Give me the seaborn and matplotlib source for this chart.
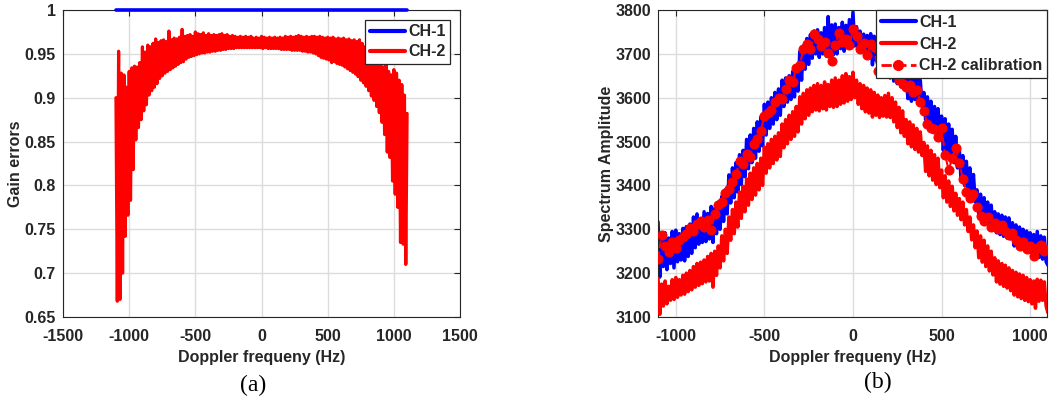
import numpy as np
import pandas as pd
import matplotlib
matplotlib.use("Agg")
import matplotlib.pyplot as plt
import seaborn as sns
from matplotlib.lines import Line2D

sns.set_style("white")
plt.rcParams['font.family'] = ['Liberation Sans', 'DejaVu Sans']
plt.rcParams['font.weight'] = 'bold'
plt.rcParams['axes.unicode_minus'] = False

# ---------------- data ----------------
# panel (a): gain errors, Doppler grid -1100..1100 Hz step 10
freq_a_start, freq_a_step = -1100, 10
gain_ch1 = [1.0] * 221
gain_ch2 = [
    0.900, 0.668, 0.953, 0.670, 0.928, 0.700, 0.926, 0.742, 0.912, 0.766,
    0.930, 0.783, 0.934, 0.818, 0.936, 0.852, 0.935, 0.866, 0.940, 0.875,
    0.958, 0.885, 0.952, 0.892, 0.960, 0.903, 0.958, 0.908, 0.962, 0.912,
    0.967, 0.916, 0.963, 0.922, 0.965, 0.925, 0.966, 0.928, 0.964, 0.930,
    0.976, 0.932, 0.966, 0.934, 0.968, 0.936, 0.967, 0.938, 0.969, 0.940,
    0.978, 0.941, 0.970, 0.944, 0.971, 0.946, 0.972, 0.947, 0.970, 0.948,
    0.975, 0.949, 0.973, 0.950, 0.972, 0.951, 0.974, 0.951, 0.971, 0.952,
    0.973, 0.952, 0.971, 0.953, 0.972, 0.953, 0.971, 0.954, 0.972, 0.954,
    0.973, 0.955, 0.971, 0.955, 0.972, 0.956, 0.970, 0.956, 0.971, 0.956,
    0.970, 0.957, 0.969, 0.957, 0.970, 0.957, 0.969, 0.957, 0.970, 0.957,
    0.969, 0.957, 0.970, 0.957, 0.968, 0.957, 0.969, 0.957, 0.968, 0.957,
    0.970, 0.956, 0.969, 0.957, 0.968, 0.956, 0.969, 0.956, 0.968, 0.956,
    0.969, 0.956, 0.968, 0.956, 0.969, 0.955, 0.968, 0.955, 0.970, 0.955,
    0.969, 0.955, 0.970, 0.954, 0.969, 0.954, 0.970, 0.954, 0.971, 0.954,
    0.970, 0.953, 0.969, 0.953, 0.970, 0.952, 0.969, 0.952, 0.970, 0.951,
    0.970, 0.950, 0.969, 0.948, 0.970, 0.946, 0.969, 0.945, 0.968, 0.944,
    0.969, 0.943, 0.968, 0.940, 0.969, 0.941, 0.967, 0.939, 0.968, 0.938,
    0.967, 0.937, 0.968, 0.935, 0.966, 0.933, 0.967, 0.931, 0.965, 0.929,
    0.966, 0.927, 0.964, 0.924, 0.966, 0.920, 0.962, 0.917, 0.958, 0.913,
    0.955, 0.908, 0.952, 0.902, 0.950, 0.897, 0.948, 0.890, 0.944, 0.883,
    0.940, 0.872, 0.935, 0.858, 0.938, 0.838, 0.930, 0.832, 0.926, 0.805,
    0.932, 0.790, 0.928, 0.775, 0.920, 0.735, 0.915, 0.733, 0.903, 0.710,
    0.882,
]

# panel (b): spectrum amplitude, Doppler grid -1100..1100 Hz step 10
freq_b_start, freq_b_step = -1100, 10
spec_ch1 = [
    3317, 3191, 3285, 3215, 3292, 3208, 3280, 3222, 3295, 3212,
    3298, 3226, 3290, 3230, 3302, 3228, 3306, 3238, 3312, 3245,
    3328, 3258, 3335, 3266, 3324, 3270, 3340, 3272, 3336, 3278,
    3352, 3270, 3348, 3290, 3362, 3300, 3375, 3318, 3390, 3335,
    3424, 3360, 3440, 3372, 3452, 3385, 3470, 3402, 3480, 3420,
    3505, 3438, 3515, 3452, 3530, 3462, 3545, 3478, 3556, 3490,
    3585, 3515, 3590, 3530, 3600, 3540, 3612, 3550, 3620, 3560,
    3640, 3580, 3645, 3590, 3650, 3596, 3660, 3602, 3672, 3615,
    3705, 3640, 3718, 3665, 3735, 3676, 3744, 3690, 3752, 3700,
    3755, 3692, 3748, 3700, 3760, 3695, 3785, 3702, 3766, 3698,
    3768, 3700, 3760, 3712, 3772, 3706, 3765, 3714, 3778, 3716,
    3795, 3718, 3762, 3710, 3752, 3705, 3745, 3700, 3742, 3702,
    3746, 3675, 3740, 3685, 3735, 3668, 3748, 3670, 3738, 3662,
    3722, 3645, 3712, 3638, 3700, 3632, 3690, 3625, 3682, 3620,
    3656, 3598, 3650, 3592, 3660, 3596, 3645, 3588, 3640, 3580,
    3612, 3550, 3602, 3540, 3592, 3532, 3580, 3520, 3575, 3512,
    3558, 3480, 3552, 3470, 3540, 3462, 3528, 3452, 3512, 3440,
    3485, 3412, 3468, 3400, 3455, 3385, 3440, 3372, 3425, 3362,
    3390, 3335, 3380, 3328, 3372, 3320, 3362, 3312, 3355, 3305,
    3340, 3292, 3335, 3288, 3332, 3284, 3328, 3280, 3326, 3278,
    3315, 3262, 3310, 3258, 3305, 3255, 3300, 3252, 3296, 3248,
    3292, 3242, 3288, 3238, 3295, 3236, 3285, 3232, 3282, 3226,
    3218,
]
spec_ch2 = [
    3188, 3106, 3175, 3125, 3182, 3130, 3170, 3138, 3185, 3140,
    3190, 3145, 3185, 3150, 3195, 3152, 3200, 3158, 3206, 3162,
    3215, 3168, 3222, 3172, 3225, 3176, 3230, 3180, 3238, 3182,
    3245, 3168, 3250, 3195, 3262, 3212, 3285, 3228, 3300, 3245,
    3328, 3275, 3345, 3290, 3362, 3305, 3385, 3325, 3398, 3340,
    3415, 3355, 3428, 3368, 3440, 3378, 3450, 3390, 3462, 3400,
    3488, 3428, 3495, 3440, 3505, 3450, 3512, 3458, 3520, 3466,
    3540, 3486, 3550, 3495, 3560, 3505, 3568, 3512, 3580, 3522,
    3602, 3540, 3610, 3552, 3618, 3560, 3622, 3568, 3628, 3572,
    3632, 3570, 3628, 3575, 3636, 3572, 3630, 3580, 3640, 3578,
    3645, 3580, 3640, 3585, 3650, 3588, 3655, 3592, 3648, 3596,
    3658, 3600, 3640, 3585, 3632, 3575, 3628, 3568, 3622, 3565,
    3618, 3556, 3612, 3560, 3606, 3555, 3600, 3558, 3605, 3556,
    3610, 3555, 3600, 3545, 3590, 3532, 3578, 3520, 3570, 3512,
    3550, 3495, 3545, 3488, 3538, 3482, 3530, 3476, 3522, 3468,
    3498, 3432, 3490, 3422, 3480, 3412, 3470, 3402, 3462, 3395,
    3435, 3372, 3422, 3362, 3410, 3352, 3398, 3342, 3382, 3332,
    3370, 3322, 3362, 3310, 3345, 3295, 3328, 3276, 3310, 3258,
    3296, 3235, 3285, 3225, 3275, 3215, 3262, 3205, 3250, 3196,
    3235, 3180, 3228, 3175, 3222, 3170, 3218, 3166, 3212, 3160,
    3206, 3150, 3202, 3146, 3198, 3142, 3195, 3138, 3190, 3135,
    3185, 3130, 3182, 3120, 3186, 3136, 3184, 3138, 3180, 3125,
    3110,
]
# CH-2 after calibration, Doppler grid -1100..1100 Hz step 20
freq_c_start, freq_c_step = -1100, 20
spec_cal = [
    3232, 3288, 3262, 3248, 3270, 3258, 3275, 3282, 3290, 3302,
    3296, 3312, 3318, 3306, 3322, 3298, 3335, 3355, 3362, 3382,
    3392, 3408, 3425, 3455, 3448, 3472, 3465, 3495, 3505, 3525,
    3558, 3565, 3572, 3590, 3600, 3598, 3620, 3640, 3635, 3668,
    3675, 3710, 3722, 3712, 3745, 3735, 3718, 3728, 3702, 3684,
    3720, 3748, 3728, 3735, 3720, 3757, 3740, 3712, 3725, 3698,
    3722, 3715, 3660, 3728, 3690, 3685, 3670, 3658, 3640, 3632,
    3625, 3628, 3612, 3618, 3590, 3570, 3540, 3532, 3528, 3510,
    3530, 3470, 3435, 3462, 3485, 3452, 3415, 3385, 3372, 3380,
    3350, 3330, 3318, 3328, 3305, 3315, 3300, 3310, 3295, 3288,
    3292, 3275, 3262, 3270, 3255, 3262, 3238, 3258, 3265, 3250,
    3255,
]

xticks_a = [-1500, -1000, -500, 0, 500, 1000, 1500]
yticks_a = [0.65, 0.7, 0.75, 0.8, 0.85, 0.9, 0.95, 1.0]
xticks_b = [-1000, -500, 0, 500, 1000]
yticks_b = [3100, 3200, 3300, 3400, 3500, 3600, 3700, 3800]

# ---------------- build frames ----------------
fa = freq_a_start + freq_a_step * np.arange(len(gain_ch2))
df_a = pd.DataFrame({"f": fa, "ch1": gain_ch1[:len(fa)], "ch2": gain_ch2})
fb = freq_b_start + freq_b_step * np.arange(len(spec_ch1))
df_b = pd.DataFrame({"f": fb, "ch1": spec_ch1, "ch2": spec_ch2})
fc = freq_c_start + freq_c_step * np.arange(len(spec_cal))
df_c = pd.DataFrame({"f": fc, "cal": spec_cal})

BLUE = "#0000ff"
RED = "#ff0000"
TXT = "#262626"
FS = 11.5

fig = plt.figure(figsize=(10.61, 4.05), dpi=100)
ax1 = fig.add_axes([0.0594, 0.2173, 0.3742, 0.758])
ax2 = fig.add_axes([0.6202, 0.2173, 0.3666, 0.758])

# panel (a)
sns.lineplot(data=df_a, x="f", y="ch2", ax=ax1, color=RED, lw=2.3,
             estimator=None, sort=False, legend=False, zorder=3)
sns.lineplot(data=df_a, x="f", y="ch1", ax=ax1, color=BLUE, lw=2.6,
             estimator=None, sort=False, legend=False, zorder=4)
ax1.lines[-1].set_clip_on(False)
ax1.set_xlim(-1500, 1500)
ax1.set_ylim(0.65, 1.0)
ax1.set_xticks(xticks_a)
ax1.set_xticklabels([f"{v:d}" for v in xticks_a])
ax1.set_yticks(yticks_a)
ax1.set_yticklabels([f"{v:g}" for v in yticks_a])
ax1.set_xlabel("Doppler frequeny (Hz)", fontsize=FS, fontweight="bold",
               color=TXT, labelpad=4)
ax1.set_ylabel("Gain errors", fontsize=FS, fontweight="bold", color=TXT,
               labelpad=1)

# panel (b)
sns.lineplot(data=df_b, x="f", y="ch1", ax=ax2, color=BLUE, lw=2.5,
             estimator=None, sort=False, legend=False, zorder=2)
sns.lineplot(data=df_b, x="f", y="ch2", ax=ax2, color=RED, lw=2.5,
             estimator=None, sort=False, legend=False, zorder=3)
sns.lineplot(data=df_c, x="f", y="cal", ax=ax2, color=RED, lw=1.5,
             linestyle="--", marker="o", markersize=6.5, markeredgecolor=RED,
             markerfacecolor=RED, estimator=None, sort=False, legend=False,
             zorder=4)
ax2.set_xlim(-1100, 1095)
ax2.set_ylim(3100, 3800)
ax2.set_xticks(xticks_b)
ax2.set_xticklabels([f"{v:d}" for v in xticks_b])
ax2.set_yticks(yticks_b)
ax2.set_yticklabels([f"{v:d}" for v in yticks_b])
ax2.set_xlabel("Doppler frequeny (Hz)", fontsize=FS, fontweight="bold",
               color=TXT, labelpad=4)
ax2.set_ylabel("Spectrum Amplitude", fontsize=FS, fontweight="bold",
               color=TXT, labelpad=1)

for ax in (ax1, ax2):
    ax.grid(True, color="#dcdcdc", lw=1.0, zorder=0)
    ax.set_axisbelow(True)
    ax.tick_params(direction="in", length=4, width=0.8, colors=TXT,
                   labelsize=FS, top=True, right=True, pad=9)
    for lab in ax.get_xticklabels() + ax.get_yticklabels():
        lab.set_fontweight("bold")
    for s in ax.spines.values():
        s.set_color(TXT)
        s.set_linewidth(0.8)
        s.set_visible(True)
    ax.tick_params(axis="y", pad=5)

leg_kw = dict(prop={"weight": "bold", "size": FS},
              handlelength=2.2, handletextpad=0.2,
              borderpad=0.3, fancybox=False, framealpha=1.0,
              edgecolor=TXT)
h_a = [Line2D([], [], color=BLUE, lw=3), Line2D([], [], color=RED, lw=3)]
lg1 = ax1.legend(h_a, ["CH-1", "CH-2"], loc="upper right",
                 borderaxespad=0.6, labelspacing=0.3, **leg_kw)
lg1.get_frame().set_linewidth(0.9)
h_b = [Line2D([], [], color=BLUE, lw=3), Line2D([], [], color=RED, lw=3),
       Line2D([], [], color=RED, lw=2, ls="--", marker="o", markersize=7)]
lg2 = ax2.legend(h_b, ["CH-1", "CH-2", "CH-2 calibration"], loc="upper right",
                 borderaxespad=0.0, labelspacing=0.42, **leg_kw)
lg2.get_frame().set_linewidth(0.9)

fig.text(253 / 1061, 1 - 385 / 405, "(a)", family="Liberation Serif",
         fontweight="normal", fontsize=17, ha="center", va="center",
         color="black")
fig.text(878 / 1061, 1 - 382 / 405, "(b)", family="Liberation Serif",
         fontweight="normal", fontsize=17, ha="center", va="center",
         color="black")

fig.savefig("out.png", dpi=100)
